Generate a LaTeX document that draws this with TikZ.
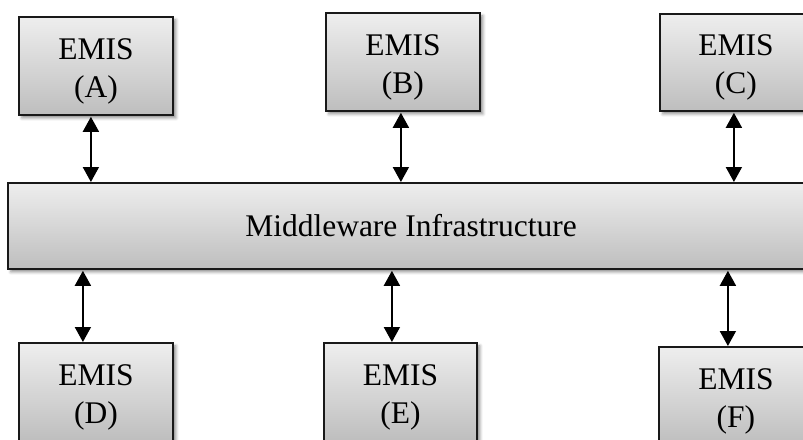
\documentclass[tikz,border=0pt]{standalone}
\usepackage{fontspec}
\setmainfont{Liberation Serif}
\usetikzlibrary{arrows.meta,shadows.blur}
\definecolor{boxtop}{HTML}{EEEEEE}
\definecolor{boxbot}{HTML}{BEBEBE}
\tikzset{
  box/.style={draw=black!90, line width=1.8pt, top color=boxtop, bottom color=boxbot,
    inner sep=0pt, anchor=north west,
    blur shadow={shadow xshift=3pt, shadow yshift=-3pt, shadow blur radius=3pt, shadow opacity=45}},
  emisbox/.style={box, minimum width=154pt, minimum height=98pt},
  lbl/.style={font=\fontsize{31.5}{38}\selectfont, align=center, inner sep=0pt, anchor=north},
  biarrow/.style={line width=1.8pt, {Triangle[width=16pt,length=15pt]}-{Triangle[width=16pt,length=15pt]}, shorten <=1pt, shorten >=0pt}
}
\begin{document}
\begin{tikzpicture}[x=1pt,y=-1pt]
\useasboundingbox (0,0) rectangle (803,439);
\clip (0,0) rectangle (803,439);
\node[emisbox] (A) at (18,16) {};
\node[emisbox] (B) at (325,12) {};
\node[emisbox, minimum width=152pt, minimum height=97pt] (C) at (659,13) {};
\node[box, minimum width=808pt, minimum height=86pt] (M) at (7,182) {};
\node[emisbox] (D) at (18,342) {};
\node[emisbox, minimum width=153pt] (E) at (323,342) {};
\node[emisbox] (F) at (658,346) {};
\node[lbl] (At) at ([yshift=-22pt]A.north) {EMIS\\(A)};
\node[lbl] (Bt) at ([yshift=-22pt]B.north) {EMIS\\(B)};
\node[lbl] (Ct) at ([yshift=-21pt]C.north) {EMIS\\(C)};
\node[lbl] (Dt) at ([yshift=-22pt]D.north) {EMIS\\(D)};
\node[lbl] (Et) at ([yshift=-22pt]E.north) {EMIS\\(E)};
\node[lbl] (Ft) at ([yshift=-22pt]F.north) {EMIS\\(F)};
\node[font=\fontsize{31.5}{38}\selectfont, inner sep=0pt] (Mt) at (411,226) {Middleware Infrastructure};
\draw[biarrow] ([xshift=-5pt]A.south) -- ([xshift=-5pt]A.south |- M.north);
\draw[biarrow] ([xshift=-2pt]B.south) -- ([xshift=-2pt]B.south |- M.north);
\draw[biarrow] ([xshift=-2pt]C.south) -- ([xshift=-2pt]C.south |- M.north);
\draw[biarrow] ([xshift=-13pt]D.north |- M.south) -- ([xshift=-13pt]D.north);
\draw[biarrow] ([xshift=-8.5pt]E.north |- M.south) -- ([xshift=-8.5pt]E.north);
\draw[biarrow] ([xshift=-8pt]F.north |- M.south) -- ([xshift=-8pt]F.north);
\end{tikzpicture}
\end{document}
